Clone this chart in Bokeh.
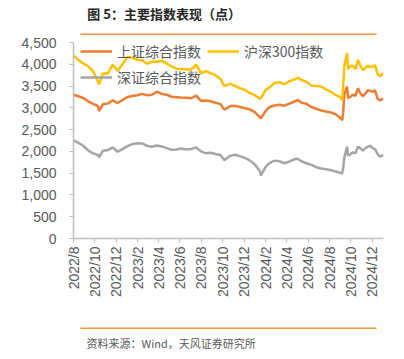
import math
import pandas as pd
from bokeh.plotting import figure
from bokeh.models import (ColumnDataSource, Range1d, FixedTicker, NumeralTickFormatter,
                          Legend, LegendItem)
from bokeh.layouts import column
from bokeh.embed import file_html
from bokeh.resources import INLINE
from bokeh.core.properties import value

# ---------------- data ----------------
dates = [
    "2022-08-19", "2022-09-02", "2022-09-16", "2022-09-30", "2022-10-14", "2022-10-28", "2022-10-31",
    "2022-11-11", "2022-11-25", "2022-12-09", "2022-12-23",
    "2023-01-06", "2023-01-20", "2023-02-03", "2023-02-17", "2023-03-03", "2023-03-17", "2023-03-31",
    "2023-04-14", "2023-04-28", "2023-05-12", "2023-05-26", "2023-06-09", "2023-06-21", "2023-07-07", "2023-07-21",
    "2023-08-04", "2023-08-18", "2023-09-01", "2023-09-15", "2023-09-28", "2023-10-13", "2023-10-23", "2023-11-10", "2023-11-24",
    "2023-12-08", "2023-12-22",
    "2024-01-05", "2024-01-19", "2024-02-02", "2024-02-05", "2024-02-19", "2024-03-01", "2024-03-15", "2024-03-29",
    "2024-04-12", "2024-04-26", "2024-05-10", "2024-05-20", "2024-05-31", "2024-06-14", "2024-06-28", "2024-07-12", "2024-07-26",
    "2024-08-09", "2024-08-23", "2024-09-06", "2024-09-18", "2024-09-24", "2024-09-27", "2024-09-30", "2024-10-08", "2024-10-11",
    "2024-10-18", "2024-10-25", "2024-11-01", "2024-11-08", "2024-11-15", "2024-11-22", "2024-11-29", "2024-12-06", "2024-12-13",
    "2024-12-20", "2024-12-27", "2025-01-03", "2025-01-10", "2025-01-20",
]

sse = [
    3300, 3265, 3225, 3150, 3090, 3040, 2925,
    3080, 3100, 3170, 3110,
    3180, 3250, 3270, 3290, 3320, 3290, 3300,
    3370, 3320, 3300, 3255, 3245, 3235, 3230, 3220,
    3280, 3160, 3170, 3150, 3115, 3085, 2960, 3040, 3045,
    3020, 2990,
    2960, 2900, 2780, 2760, 2930, 3020, 3055, 3070,
    3050, 3095, 3140, 3180, 3120, 3090, 3020, 2980, 2940,
    2915, 2895, 2850, 2770, 2720, 2900, 3300, 3490, 3220,
    3260, 3300, 3275, 3450, 3330, 3270, 3325, 3405, 3390,
    3370, 3400, 3210, 3170, 3215,
]

csi300 = [
    4200, 4100, 4020, 3950, 3840, 3600, 3540,
    3790, 3790, 3990, 3850,
    4000, 4170, 4150, 4100, 4090, 4010, 4060,
    4060, 4080, 4020, 3950, 3900, 3890, 3880, 3880,
    3990, 3800, 3840, 3790, 3750, 3660, 3500, 3550, 3500,
    3450, 3410,
    3340, 3290, 3210, 3225, 3420, 3470, 3570, 3590,
    3540, 3610, 3650, 3690, 3640, 3600, 3510, 3500, 3490,
    3420, 3370, 3290, 3250, 3170, 3500, 3950, 4256, 3890,
    3960, 3960, 3890, 4100, 3970, 3870, 3915, 3970, 3935,
    3945, 3980, 3775, 3730, 3795,
]

szse = [
    2250, 2197, 2129, 2020, 1955, 1917, 1864,
    2015, 2030, 2091, 1992,
    2053, 2121, 2167, 2189, 2182, 2129, 2106,
    2136, 2114, 2076, 2038, 2045, 2068, 2045, 2053,
    2091, 2000, 1955, 1970, 1939, 1917, 1800, 1901, 1924,
    1886, 1848,
    1788, 1697, 1545, 1447, 1652, 1735, 1788, 1773,
    1727, 1765, 1818, 1833, 1773, 1727, 1689, 1636, 1606,
    1591, 1568, 1538, 1510, 1500, 1620, 1850, 2110, 1901,
    1939, 1977, 1955, 2106, 2076, 2015, 2076, 2106, 2129,
    2076, 2053, 1939, 1879, 1917,
]

series_names = ["上证综合指数", "沪深300指数", "深证综合指数"]

tick_dates = [
    "2022-08-19", "2022-10-19", "2022-12-19", "2023-02-19", "2023-04-19", "2023-06-19",
    "2023-08-19", "2023-10-19", "2023-12-19", "2024-02-19", "2024-04-19", "2024-06-19",
    "2024-08-19", "2024-10-19", "2024-12-19",
]
tick_labels = [
    "2022/8", "2022/10", "2022/12", "2023/2", "2023/4", "2023/6", "2023/8", "2023/10",
    "2023/12", "2024/2", "2024/4", "2024/6", "2024/8", "2024/10", "2024/12",
]
y_ticks = [0, 500, 1000, 1500, 2000, 2500, 3000, 3500, 4000, 4500]

title_text = "图 5：主要指数表现（点）"
source_text = "资料来源：Wind，天风证券研究所"

# ---------------- styling ----------------
W = 404
CJK = "Noto Sans CJK SC"
LAT = "Liberation Sans"
RULE = "#F39433"
LABEL = "#595959"
AXIS = "#BFBFBF"
COLORS = ["#ED7D31", "#FFC000", "#A5A5A5"]


def style_plain(fig):
    fig.grid.visible = False
    fig.outline_line_color = None
    fig.background_fill_color = "white"
    fig.border_fill_color = "white"
    return fig


def banner(height):
    f = figure(width=W, height=height, title=None,
               x_range=Range1d(0, W), y_range=Range1d(height, 0),
               output_backend="svg", toolbar_location=None,
               min_border_left=0, min_border_right=0, min_border_top=0, min_border_bottom=0,
               x_axis_location=None, y_axis_location=None)
    return style_plain(f)


# header: title + orange rule
HH = 35
hdr = banner(HH)
hdr.text(x=[18], y=[13.3], text=[title_text], text_font=value(CJK), text_font_size="13px",
         text_font_style="bold", text_color="#262626", text_baseline="middle", text_align="left")
hdr.line(x=[9, 395], y=[33.7, 33.7], line_color=RULE, line_width=1.5)

# main chart
x_dt = pd.to_datetime(dates)
src = ColumnDataSource(dict(date=x_dt, sse=sse, csi=csi300, sz=szse))

p = figure(width=W, height=285, x_axis_type="datetime",
           x_range=Range1d(x_dt[0], x_dt[-1]), y_range=Range1d(y_ticks[0], y_ticks[-1]),
           output_backend="svg", toolbar_location=None,
           min_border_left=73, min_border_right=21, min_border_top=7, min_border_bottom=82)
style_plain(p)

tick_ms = [int(pd.Timestamp(d).value // 10**6) for d in tick_dates]
p.xaxis.ticker = FixedTicker(ticks=tick_ms)
p.xaxis.major_label_overrides = {t: l for t, l in zip(tick_ms, tick_labels)}
p.xaxis.major_label_orientation = math.pi / 2
p.xaxis.major_label_standoff = 4

p.yaxis.ticker = FixedTicker(ticks=y_ticks)
p.yaxis.formatter = NumeralTickFormatter(format="0,0")
p.yaxis.major_label_standoff = 13

for ax in (p.xaxis[0], p.yaxis[0]):
    ax.axis_line_color = AXIS
    ax.axis_line_width = 1.5
    ax.major_tick_line_color = AXIS
    ax.major_tick_line_width = 1.2
    ax.major_tick_out = 4
    ax.major_tick_in = 0
    ax.minor_tick_line_color = None
    ax.major_label_text_font = LAT
    ax.major_label_text_font_size = "14px"
    ax.major_label_text_color = LABEL

r1 = p.line("date", "sse", source=src, line_color=COLORS[0], line_width=2.5)
r2 = p.line("date", "csi", source=src, line_color=COLORS[1], line_width=2.5)
r3 = p.line("date", "sz", source=src, line_color=COLORS[2], line_width=2.5)

legend = Legend(
    items=[LegendItem(label=series_names[0], renderers=[r1]),
           LegendItem(label=series_names[1], renderers=[r2]),
           LegendItem(label=series_names[2], renderers=[r3])],
    location=(7, 151), orientation="horizontal", ncols=2,
    glyph_width=32, glyph_height=20, label_height=20, label_standoff=5, spacing=6,
    padding=0, margin=0, border_line_color=None, background_fill_alpha=0,
    label_text_font=CJK, label_text_font_size="14px", label_text_color=LABEL,
)
p.add_layout(legend)

# footer: orange rule + source
FH = 36
ftr = banner(FH)
ftr.line(x=[9, 395], y=[7.7, 7.7], line_color=RULE, line_width=1.5)
ftr.text(x=[17], y=[22], text=[source_text], text_font=value(CJK), text_font_size="11px",
         text_color=LABEL, text_baseline="middle", text_align="left")

layout = column(hdr, p, ftr, spacing=0)
open("out.html", "w").write(file_html(layout, INLINE))
